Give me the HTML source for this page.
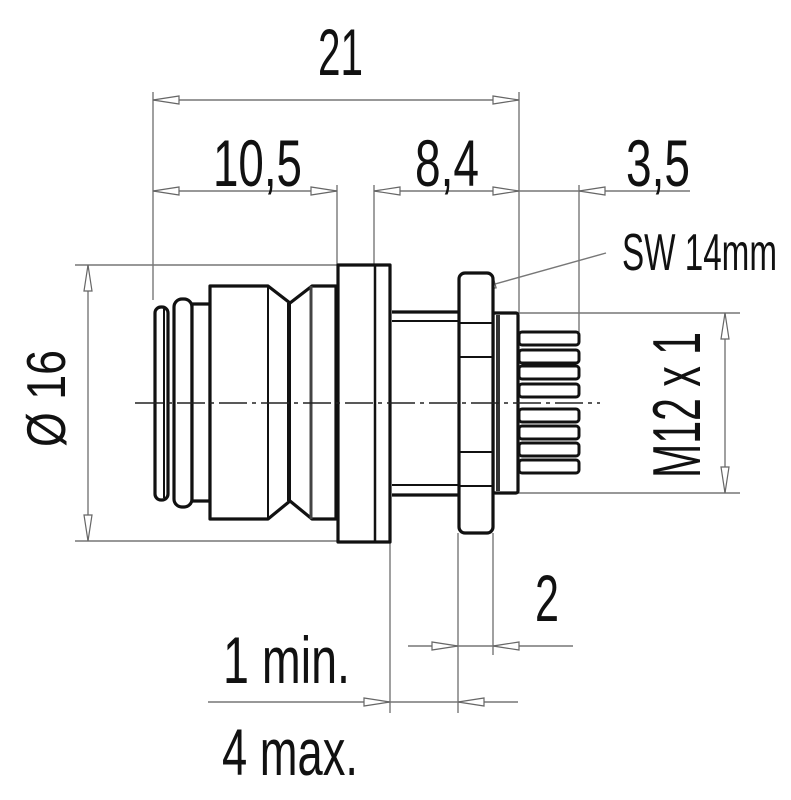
<!DOCTYPE html>
<html><head><meta charset="utf-8"><style>
html,body{margin:0;padding:0;background:#fff;}
svg{display:block}
text{font-family:"Liberation Sans Narrow","Liberation Sans",sans-serif;fill:#111;}
</style></head><body>
<svg width="791" height="800" viewBox="0 0 791 800" xmlns="http://www.w3.org/2000/svg">
<defs>
<g id="ar"><polygon points="0,0 26,-4 26,4" fill="#fff" stroke="#666" stroke-width="1.2"/></g>
</defs>
<!-- dimension / extension lines -->
<g stroke="#777" stroke-width="1.4" fill="none">
<line x1="153" y1="92" x2="153" y2="300"/>
<line x1="153" y1="100" x2="519" y2="100"/>
<line x1="519" y1="92" x2="519" y2="313"/>
<line x1="153" y1="191" x2="337" y2="191"/>
<line x1="337" y1="185" x2="337" y2="265"/>
<line x1="374" y1="185" x2="374" y2="265"/>
<line x1="374" y1="191" x2="690" y2="191"/>
<line x1="579" y1="185" x2="579" y2="332"/>
<line x1="75" y1="265" x2="340" y2="265"/>
<line x1="75" y1="541" x2="340" y2="541"/>
<line x1="88" y1="265" x2="88" y2="541"/>
<line x1="518" y1="313" x2="740" y2="313"/>
<line x1="518" y1="493" x2="740" y2="493"/>
<line x1="725" y1="313" x2="725" y2="493"/>
<line x1="390" y1="542" x2="390" y2="713"/>
<line x1="458" y1="533" x2="458" y2="713"/>
<line x1="493" y1="533" x2="493" y2="655"/>
<line x1="408" y1="646" x2="573" y2="646"/>
<line x1="208" y1="702" x2="518" y2="702"/>
<line x1="470" y1="291" x2="606" y2="253"/>
</g>
<!-- arrowheads -->
<use href="#ar" transform="translate(153,100)"/>
<use href="#ar" transform="translate(519,100) rotate(180)"/>
<use href="#ar" transform="translate(153,191)"/>
<use href="#ar" transform="translate(337,191) rotate(180)"/>
<use href="#ar" transform="translate(374,191)"/>
<use href="#ar" transform="translate(519,191) rotate(180)"/>
<use href="#ar" transform="translate(579,191)"/>
<use href="#ar" transform="translate(88,265) rotate(90)"/>
<use href="#ar" transform="translate(88,541) rotate(-90)"/>
<use href="#ar" transform="translate(725,313) rotate(90)"/>
<use href="#ar" transform="translate(725,493) rotate(-90)"/>
<use href="#ar" transform="translate(458,646) rotate(180)"/>
<use href="#ar" transform="translate(493,646)"/>
<use href="#ar" transform="translate(390,702) rotate(180)"/>
<use href="#ar" transform="translate(458,702)"/>
<use href="#ar" transform="translate(470,291) rotate(-15.6)"/>
<!-- body -->
<g stroke="#111" stroke-width="3.2" fill="#fff" stroke-linejoin="round">
<rect x="155" y="307" width="13" height="193" rx="6"/>
<line x1="164" y1="309" x2="164" y2="498" stroke-width="2"/>
<rect x="174" y="299" width="18" height="208" rx="8"/>
<rect x="192" y="304" width="18" height="197"/>
<path d="M210,286 L268,286 L290,303 L312,286 L336,286 L336,519 L312,519 L290,501 L268,519 L210,519 Z"/>
<line x1="268" y1="286" x2="268" y2="519" stroke-width="2"/>
<line x1="289" y1="303" x2="289" y2="501" stroke-width="4"/>
<line x1="311" y1="286" x2="311" y2="519" stroke-width="3" stroke="#444"/>
<rect x="338" y="265" width="52" height="277"/>
<line x1="375" y1="265" x2="375" y2="542" stroke-width="2.5"/>
<line x1="392" y1="312" x2="459" y2="312"/>
<line x1="392" y1="321" x2="459" y2="321" stroke-width="2"/>
<line x1="392" y1="485" x2="459" y2="485" stroke-width="2"/>
<line x1="392" y1="495" x2="459" y2="495"/>
<rect x="493" y="313" width="25" height="180" rx="2"/>
<line x1="498" y1="315" x2="498" y2="491" stroke-width="4" stroke="#333"/>
<rect x="459" y="273" width="34" height="260" rx="6"/>
<g stroke-width="2">
<line x1="459" y1="323" x2="493" y2="323"/>
<line x1="459" y1="357" x2="493" y2="357"/>
<line x1="459" y1="452" x2="493" y2="452"/>
<line x1="459" y1="486" x2="493" y2="486"/>
</g>
<g stroke-width="3">
<rect x="519" y="332" width="60" height="13" rx="3"/>
<rect x="519" y="350" width="60" height="13" rx="3"/>
<rect x="519" y="366" width="60" height="13" rx="3"/>
<rect x="519" y="384" width="60" height="13" rx="3"/>
<rect x="519" y="409" width="60" height="13" rx="3"/>
<rect x="519" y="426" width="60" height="13" rx="3"/>
<rect x="519" y="443" width="60" height="13" rx="3"/>
<rect x="519" y="460" width="60" height="13" rx="3"/>
</g>
</g>
<!-- centerline -->
<line x1="135" y1="403" x2="600" y2="403" stroke="#222" stroke-width="1.5" stroke-dasharray="28,5,4,5"/>
<!-- text -->
<text x="318" y="75" font-size="66" textLength="45" lengthAdjust="spacingAndGlyphs">21</text>
<text x="213" y="186" font-size="66" textLength="89" lengthAdjust="spacingAndGlyphs">10,5</text>
<text x="415" y="186" font-size="66" textLength="64" lengthAdjust="spacingAndGlyphs">8,4</text>
<text x="626" y="186" font-size="66" textLength="64" lengthAdjust="spacingAndGlyphs">3,5</text>
<text x="622" y="270" font-size="52" textLength="155" lengthAdjust="spacingAndGlyphs">SW 14mm</text>
<text x="535" y="621" font-size="66" textLength="24" lengthAdjust="spacingAndGlyphs">2</text>
<text x="223" y="683" font-size="66" textLength="127" lengthAdjust="spacingAndGlyphs">1 min.</text>
<text x="222" y="775" font-size="66" textLength="136" lengthAdjust="spacingAndGlyphs">4 max.</text>
<text transform="translate(65,447) rotate(-90)" font-size="55" textLength="97" lengthAdjust="spacingAndGlyphs">Ø 16</text>
<text transform="translate(700,478) rotate(-90)" font-size="68" textLength="146" lengthAdjust="spacingAndGlyphs">M12 x 1</text>
</svg>
</body></html>
